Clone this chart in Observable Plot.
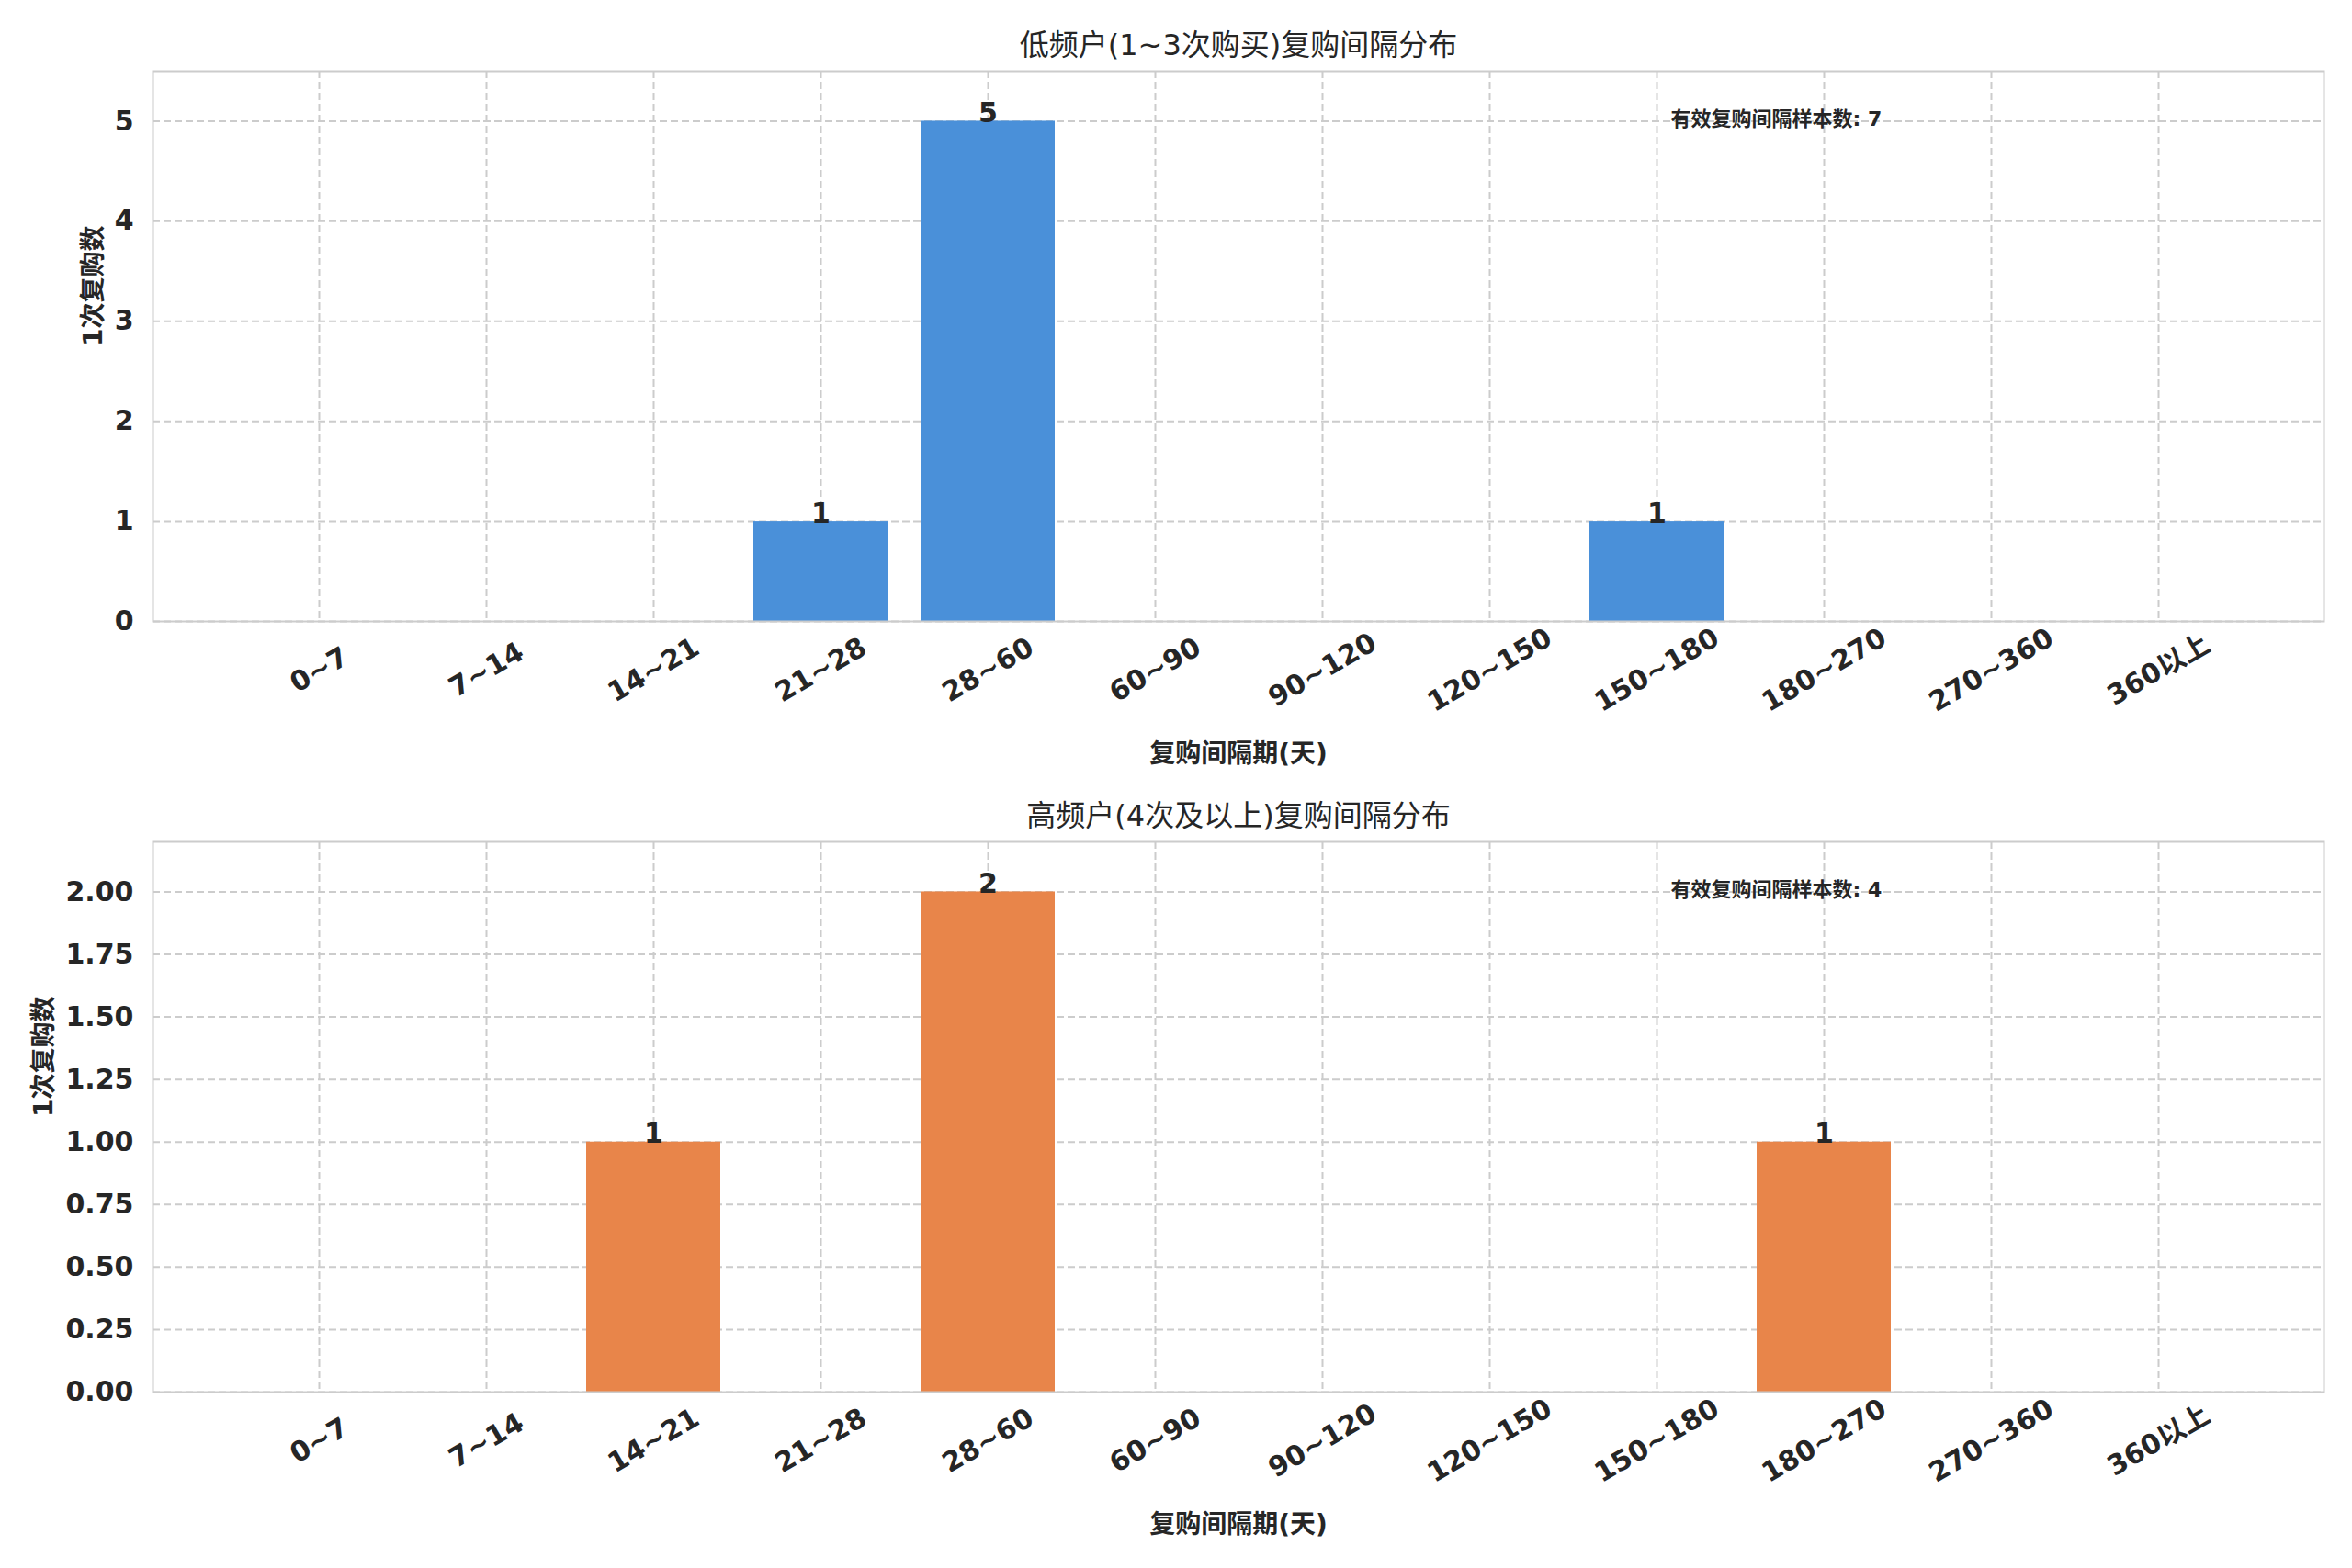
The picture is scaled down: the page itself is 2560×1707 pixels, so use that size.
<!DOCTYPE html>
<html><head><meta charset="utf-8">
<script src="https://cdn.jsdelivr.net/npm/d3@7"></script>
<script src="https://cdn.jsdelivr.net/npm/@observablehq/plot@0.6"></script>
<style>
body{margin:0;background:#fff}
#chart{width:2560px;height:1707px;background:#fff}
#chart svg{display:block}
</style>
</head><body><div id="chart"></div>
<script>
const categories = ["0~7","7~14","14~21","21~28","28~60","60~90","90~120","120~150","150~180","180~270","270~360","360以上"];
const lowCounts  = [0,0,0,1,5,0,0,0,1,0,0,0];
const highCounts = [0,0,1,0,2,0,0,0,0,1,0,0];
const titles = ["低频户(1~3次购买)复购间隔分布", "高频户(4次及以上)复购间隔分布"];
const yLabel = "1次复购数";
const xLabel = "复购间隔期(天)";
const notePrefix = "有效复购间隔样本数";
const colors = ["#4A90D9", "#E8854A"];
const lowTicks = [0,1,2,3,4,5];
const highTicks = [0,0.25,0.5,0.75,1,1.25,1.5,1.75,2];

function panel({counts, title, color, height, marginTop, marginBottom, yTicks, yFormat, yLabelDx}) {
  const data = categories.map((c, i) => ({cat: c, n: counts[i]}));
  const total = d3.sum(counts);
  const maxV = d3.max(counts);
  const grid = {stroke: "#cccccc", strokeOpacity: 1, strokeWidth: 2, strokeDasharray: "8,4"};
  return Plot.plot({
    width: 2560, height, marginTop, marginBottom, marginLeft: 166, marginRight: 31,
    style: {fontFamily: '"DejaVu Sans", "Noto Sans CJK SC", sans-serif', color: "#262626", background: "#fff", overflow: "visible"},
    x: {type: "band", domain: categories, paddingInner: 0.2, paddingOuter: 0.59},
    y: {domain: [0, maxV * 1.1]},
    marks: [
      Plot.gridX(grid),
      Plot.gridY(yTicks, grid),
      Plot.barY(data, {x: "cat", y: "n", fill: color}),
      Plot.frame({stroke: "#cccccc", strokeWidth: 2}),
      Plot.axisX({tickSize: 0, tickPadding: 53, tickRotate: -30, textAnchor: "middle", lineAnchor: "middle", fontSize: 30, fontWeight: "bold", label: null}),
      Plot.axisY(yTicks, {tickSize: 0, tickPadding: 21, tickFormat: yFormat, fontSize: 30, fontWeight: "bold", label: null}),
      Plot.text(data.filter(d => d.n > 0), {x: "cat", y: "n", text: d => String(d.n), lineAnchor: "bottom", dy: 1, fontSize: 30, fontWeight: "bold"}),
      Plot.text([title], {frameAnchor: "top", dy: -28, lineAnchor: "middle", fontSize: 32}),
      Plot.text([xLabel], {frameAnchor: "bottom", dy: 145, lineAnchor: "middle", fontSize: 28, fontWeight: "bold"}),
      Plot.text([yLabel], {frameAnchor: "left", dx: yLabelDx, rotate: -90, lineAnchor: "middle", fontSize: 28, fontWeight: "bold"}),
      Plot.text([`${notePrefix}: ${total}`], {frameAnchor: "top-left", dx: 1652, dy: 52, textAnchor: "start", lineAnchor: "middle", fontSize: 22, fontWeight: "bold"})
    ]
  });
}

const chart = document.getElementById("chart");
chart.append(panel({counts: lowCounts, title: titles[0], color: colors[0], height: 853, marginTop: 77, marginBottom: 177, yTicks: lowTicks, yFormat: d3.format("d"), yLabelDx: -64}));
chart.append(panel({counts: highCounts, title: titles[1], color: colors[1], height: 854, marginTop: 63, marginBottom: 192, yTicks: highTicks, yFormat: d3.format(".2f"), yLabelDx: -118}));
</script>
</body></html>
